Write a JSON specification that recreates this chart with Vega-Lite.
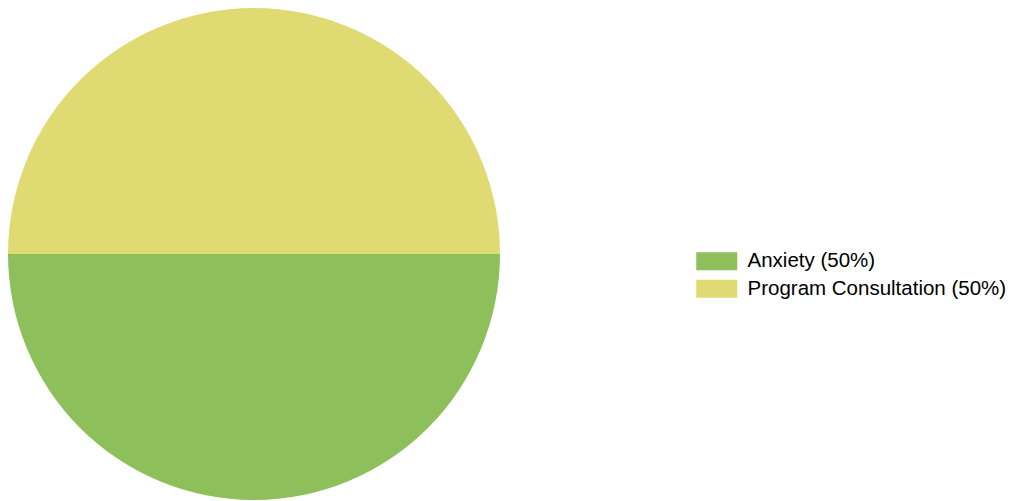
{
  "$schema": "https://vega.github.io/schema/vega-lite/v6.json",
  "width": 508,
  "height": 508,
  "autosize": {"type": "none"},
  "padding": {"left": 0, "top": 0, "right": 504, "bottom": 0},
  "background": "white",
  "config": {"view": {"stroke": null}},
  "data": {
    "values": [
      {"category": "Anxiety (50%)", "value": 50, "order": 1},
      {"category": "Program Consultation (50%)", "value": 50, "order": 2}
    ]
  },
  "mark": {"type": "arc", "radius": 246},
  "encoding": {
    "theta": {"field": "value", "type": "quantitative", "stack": true, "scale": {"range": [1.5707963, 7.8539816]}},
    "order": {"field": "order", "type": "quantitative"},
    "color": {
      "field": "category",
      "type": "nominal",
      "scale": {"domain": ["Anxiety (50%)", "Program Consultation (50%)"], "range": ["#8dbf5b", "#dfdb72"]},
      "legend": {
        "title": null,
        "orient": "none",
        "legendX": 706.25,
        "legendY": 250.75,
        "symbolType": "M-2,-0.878H2V0.878H-2Z",
        "symbolSize": 420.25,
        "symbolStrokeWidth": 0,
        "labelFont": "Liberation Sans",
        "labelFontSize": 20.5,
        "labelColor": "#000000",
        "labelOffset": 20.25,
        "rowPadding": 6.5,
        "labelLimit": 400,
        "padding": 0
      }
    }
  }
}
